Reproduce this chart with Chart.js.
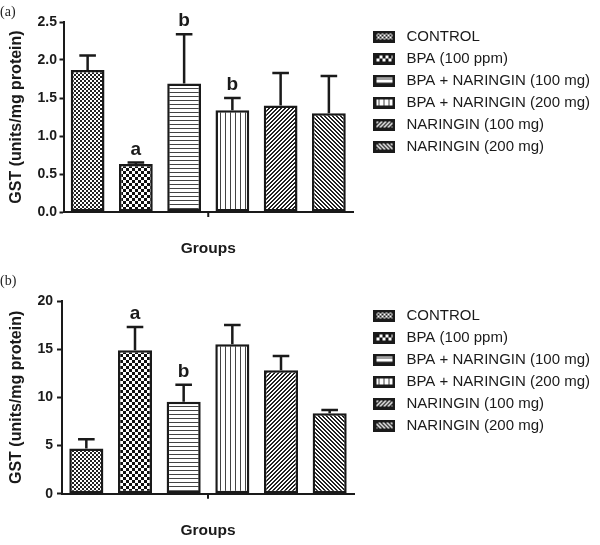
<!DOCTYPE html>
<html>
<head>
<meta charset="utf-8">
<script src="https://cdn.jsdelivr.net/npm/chart.js@4.4.1/dist/chart.umd.min.js"></script>
<style>
  html, body { margin: 0; padding: 0; background: #fff; }
  #wrap { position: relative; width: 600px; height: 545px; overflow: hidden; }
  .panel { position: absolute; left: 0; width: 600px; }
  .tag { position: absolute; left: 0; font: 14px/16px "Liberation Serif", "Times New Roman", serif; color: #222; }
</style>
</head>
<body>
<div id="wrap">
  <div class="panel" style="top:0;height:270px"><canvas id="chartA" width="600" height="270"></canvas></div>
  <div class="panel" style="top:270px;height:275px"><canvas id="chartB" width="600" height="275"></canvas></div>
  <div class="tag" style="top:4px">(a)</div>
  <div class="tag" style="top:273px">(b)</div>
</div>
<script>
// groups shown on both panels (one bar each)
const groups = ['CONTROL', 'BPA (100 ppm)', 'BPA + NARINGIN (100 mg)', 'BPA + NARINGIN (200 mg)', 'NARINGIN (100 mg)', 'NARINGIN (200 mg)'];

// panel (a)
const meanA = [1.87, 0.63, 1.69, 1.34, 1.40, 1.30];
const errA = [0.19, 0.02, 0.65, 0.16, 0.43, 0.49];
const marksA = ['', 'a', 'b', 'b', '', ''];
const yTicksA = [0, 0.5, 1.0, 1.5, 2.0, 2.5];

// panel (b)
const meanB = [4.7, 14.9, 9.55, 15.5, 12.8, 8.35];
const errB = [0.95, 2.4, 1.75, 2.0, 1.5, 0.35];
const marksB = ['', 'a', 'b', '', '', ''];
const yTicksB = [0, 5, 10, 15, 20];

const INK = '#1a1a1a';
Chart.defaults.font.family = '"Liberation Sans", Arial, Helvetica, sans-serif';
Chart.defaults.color = INK;

// fill tiles, one per group
function makeTile(size, paint, color) {
  const c = document.createElement('canvas');
  c.width = size; c.height = size;
  const g = c.getContext('2d');
  g.fillStyle = '#fff';
  g.fillRect(0, 0, size, size);
  g.fillStyle = color;
  for (let y = 0; y < size; y++) {
    for (let x = 0; x < size; x++) {
      if (paint(x, y)) g.fillRect(x, y, 1, 1);
    }
  }
  return c;
}

const tiles = [
  makeTile(4, (x, y) => ((x >> 1) + (y >> 1)) % 2 === 0, '#222'),
  makeTile(6, (x, y) => (Math.floor(x / 3) + Math.floor(y / 3)) % 2 === 0, '#111'),
  makeTile(4, (x, y) => y === 0, '#444'),
  makeTile(5, (x, y) => x === 0, '#444'),
  makeTile(4, (x, y) => (x + y) % 4 < 2, '#222'),
  makeTile(4, (x, y) => (x - y + 8) % 4 < 2, '#222')
];

function makeIcon(tile) {
  const c = document.createElement('canvas');
  c.width = 22; c.height = 12;
  const g = c.getContext('2d');
  g.fillStyle = g.createPattern(tile, 'repeat');
  g.fillRect(0, 0, 22, 12);
  g.strokeStyle = INK;
  g.lineWidth = 3;
  g.strokeRect(1.5, 1.5, 19, 9);
  return c;
}
const icons = tiles.map(makeIcon);

// error bars, letters and the lone centre tick on the x axis
function errorPlugin(errs, marks) {
  return {
    id: 'errorMarks',
    afterDatasetsDraw(chart) {
      const {ctx, chartArea, scales: {y}} = chart;
      ctx.save();
      ctx.strokeStyle = INK;
      ctx.fillStyle = INK;
      ctx.lineWidth = 2.5;
      ctx.font = 'bold 19px "Liberation Sans", Arial, sans-serif';
      ctx.textAlign = 'center';
      ctx.textBaseline = 'alphabetic';
      chart.data.datasets.forEach((ds, i) => {
        const bar = chart.getDatasetMeta(i).data[i];
        const top = y.getPixelForValue(ds.data[i] + errs[i]);
        ctx.beginPath();
        ctx.moveTo(bar.x, bar.y);
        ctx.lineTo(bar.x, top);
        ctx.moveTo(bar.x - 8.3, top);
        ctx.lineTo(bar.x + 8.3, top);
        ctx.stroke();
        if (marks[i]) ctx.fillText(marks[i], bar.x, top - 8);
      });
      const cx = (chartArea.left + chartArea.right) / 2;
      ctx.lineWidth = 2;
      ctx.beginPath();
      ctx.moveTo(cx, chartArea.bottom);
      ctx.lineTo(cx, chartArea.bottom + 5);
      ctx.stroke();
      ctx.restore();
    }
  };
}

function buildChart(id, cfg) {
  const ctx = document.getElementById(id).getContext('2d');
  const pats = tiles.map(t => ctx.createPattern(t, 'repeat'));
  const datasets = groups.map((g, i) => ({
    label: g,
    data: cfg.means.map((v, j) => (j === i ? v : null)),
    backgroundColor: pats[i],
    borderColor: INK,
    borderWidth: 2.5,
    borderSkipped: false,
    grouped: false,
    barPercentage: 0.7,
    categoryPercentage: 1
  }));

  return new Chart(ctx, {
    type: 'bar',
    data: {labels: groups, datasets},
    plugins: [errorPlugin(cfg.errs, cfg.marks)],
    options: {
      responsive: false,
      animation: false,
      devicePixelRatio: 1,
      layout: {padding: {top: cfg.top, left: 0, right: 0, bottom: 0}},
      plugins: {
        tooltip: {enabled: false},
        legend: {
          position: 'right',
          align: 'start',
          maxWidth: 320,
          labels: {
            usePointStyle: true,
            pointStyleWidth: 29,
            padding: 7,
            color: INK,
            font: {size: 15},
            generateLabels(chart) {
              const items = Chart.defaults.plugins.legend.labels.generateLabels(chart);
              items.forEach((it, i) => { it.pointStyle = icons[i]; });
              return items;
            }
          }
        }
      },
      scales: {
        x: {
          grid: {display: false},
          border: {display: true, color: INK, width: 2},
          ticks: {display: false},
          title: {display: true, text: 'Groups', color: INK, font: {size: 15.5, weight: 'bold'}, padding: {top: 0, bottom: cfg.xTitlePad}},
          afterFit: s => { s.height = cfg.xHeight; }
        },
        y: {
          min: 0,
          max: cfg.ticks[cfg.ticks.length - 1],
          afterBuildTicks: s => { s.ticks = cfg.ticks.map(v => ({value: v})); },
          ticks: {
            color: INK,
            font: {size: 14, weight: 'bold'},
            padding: cfg.tickPad,
            callback: v => v.toFixed(cfg.decimals)
          },
          grid: {display: true, drawOnChartArea: false, drawTicks: true, tickLength: cfg.tickLen, tickWidth: 2, tickColor: INK},
          border: {display: true, color: INK, width: 2},
          title: {display: true, text: 'GST (units/mg protein)', color: INK, font: {size: 16, weight: 'bold'}, padding: {top: 7.4, bottom: 0}},
          afterFit: s => { s.width = cfg.left; }
        },
        gap: {
          type: 'linear',
          axis: 'y',
          position: 'right',
          grid: {display: false},
          border: {display: false},
          ticks: {display: false},
          afterFit: s => {
            const lw = s.chart.legend ? s.chart.legend.width : 240;
            s.width = Math.max(0, s.chart.width - lw - cfg.right);
          }
        }
      }
    }
  });
}

buildChart('chartA', {
  means: meanA, errs: errA, marks: marksA, ticks: yTicksA, decimals: 1,
  top: 22, left: 63.5, right: 353, xHeight: 58, xTitlePad: 11.7, tickLen: 4, tickPad: 2.5
});

buildChart('chartB', {
  means: meanB, errs: errB, marks: marksB, ticks: yTicksB, decimals: 0,
  top: 31, left: 62, right: 354, xHeight: 51.3, xTitlePad: 4.7, tickLen: 5, tickPad: 4
});
</script>
</body>
</html>
